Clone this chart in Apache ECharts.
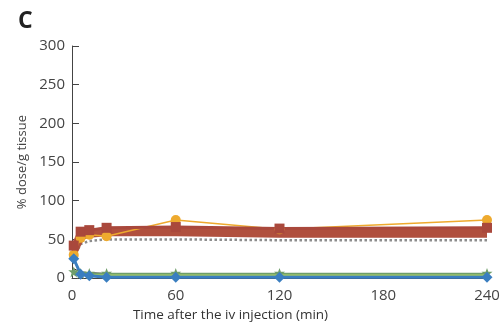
<!DOCTYPE html>
<html>
<head>
<meta charset="utf-8">
<script src="https://cdn.jsdelivr.net/npm/echarts@6/dist/echarts.min.js"></script>
<style>
    html, body { margin: 0; padding: 0; background: #fff; }
    #chart { width: 503px; height: 327px; }
</style>
</head>
<body>
<div id="chart"></div>
<script>
    // sampling times (min)
    var times = [1, 5, 10, 20, 60, 120, 240];
    var xTicks = [0, 60, 120, 180, 240];

    var brownSquares = [42, 60, 62, 65, 66, 64, 65];
    var brownBand = [36, 55, 58, 60, 60, 58, 58];
    var orangeCircles = [30, 52, 56, 54, 75, 63, 75];
    var greyDotted = [26, 44, 48, 50, 50, 49, 49];
    var blackLine = [12, 8, 7, 6, 5, 3, 3];
    var greenStars = [8, 6, 6, 6, 6, 6, 6];
    var limeLine = [5, 4, 4, 4, 4, 4, 4];
    var blueDiamonds = [25, 5, 3, 1, 1, 1, 1];

    function pairs(vals) {
        var out = [];
        for (var i = 0; i < vals.length; i++) out.push([times[i], vals[i]]);
        return out;
    }

    function line(name, vals, color, width, symbol, size, type) {
        return {
            name: name,
            type: 'line',
            data: pairs(vals),
            symbol: symbol,
            symbolSize: size,
            showSymbol: symbol != 'none',
            lineStyle: { color: color, width: width, type: type || 'solid' },
            itemStyle: { color: color },
            z: 2
        };
    }

    var option = {
        animation: false,
        title: {
            text: 'C',
            left: 13,
            top: 5,
            textStyle: { fontFamily: 'Open Sans', fontSize: 23, fontWeight: 'bold', color: '#222' }
        },
        grid: { left: 72, right: 16, top: 46, bottom: 44 },
        xAxis: {
            type: 'value',
            min: 0,
            max: 240,
            interval: 60,
            name: 'Time after the iv injection (min)',
            nameLocation: 'middle',
            nameGap: 23,
            nameTextStyle: { fontFamily: 'Open Sans', fontSize: 13.5, color: '#333', padding: [0, 98, 0, 0], verticalAlign: 'top' },
            axisLine: { show: true, lineStyle: { color: '#444', width: 1 } },
            axisTick: { show: false },
            splitLine: { show: false },
            axisLabel: {
                fontFamily: 'Open Sans', fontSize: 15, color: '#444', margin: 10,
                formatter: function (v) { return xTicks.indexOf(v) >= 0 ? v : ''; }
            }
        },
        yAxis: {
            type: 'value',
            min: 0,
            max: 300,
            interval: 50,
            name: '% dose/g tissue',
            nameLocation: 'middle',
            nameRotate: 90,
            nameGap: 35,
            nameTextStyle: { fontFamily: 'Open Sans', fontSize: 13, color: '#444' },
            axisLine: { show: true, lineStyle: { color: '#444', width: 1 } },
            axisTick: { show: true, inside: true, length: 7, lineStyle: { color: '#444' } },
            splitLine: { show: false },
            axisLabel: { fontFamily: 'Open Sans', fontSize: 15, color: '#444', margin: 7 }
        },
        series: [
            line('grey', greyDotted, '#8c8c8c', 2.5, 'none', 0, 'dotted'),
            line('band', brownBand, '#b0503e', 9, 'none', 0),
            line('orange', orangeCircles, '#eeaa2e', 1.5, 'circle', 10),
            line('brown', brownSquares, '#a9483c', 3, 'rect', 10),
            line('black', blackLine, '#222222', 1, 'none', 0),
            line('lime', limeLine, '#9cc36a', 2, 'none', 0),
            line('green', greenStars, '#6f9e6a', 1.5, 'path://M0,-10L2.5,-3L10,-3L4,2L6,10L0,5L-6,10L-4,2L-10,-3L-2.5,-3Z', 11),
            line('blue', blueDiamonds, '#3a7ec0', 3, 'diamond', 11)
        ]
    };

    var chart = echarts.init(document.getElementById('chart'));
    chart.setOption(option);
</script>
</body>
</html>
